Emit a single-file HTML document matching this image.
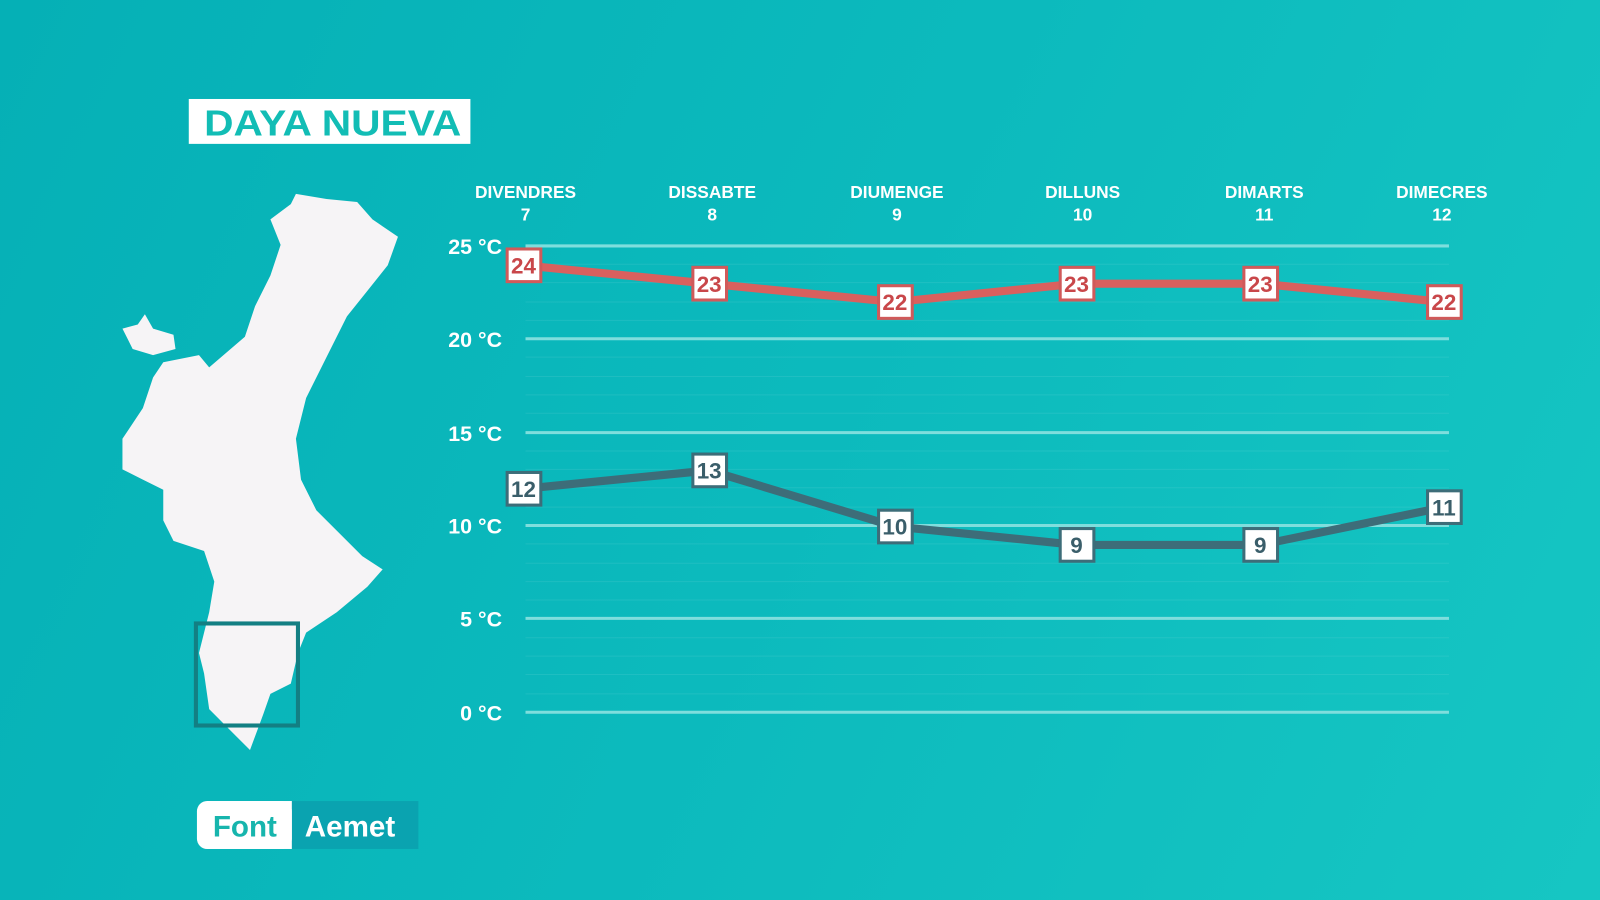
<!DOCTYPE html>
<html><head><meta charset="utf-8"><style>
html,body{margin:0;padding:0;width:1600px;height:900px;overflow:hidden}
body{background:linear-gradient(115deg,#05b0b6 0%,#0cbabd 50%,#16c6c3 100%)}
svg{display:block}
text{font-family:"Liberation Sans",sans-serif;font-weight:bold}
</style></head><body>
<svg width="1600" height="900" viewBox="0 0 1568 882" xmlns="http://www.w3.org/2000/svg">
<rect x="185" y="97" width="276" height="44" fill="#fff"/>
<text x="200" y="133" font-size="35" fill="#12bdb5" textLength="252" lengthAdjust="spacingAndGlyphs">DAYA NUEVA</text>
<path fill="#f6f4f6" d="M290,190 L320,195 L350,198 L365,215 L390,232 L380,260 L360,285 L340,310 L320,350 L300,390 L290,430 L295,470 L310,500 L330,520 L355,545 L375,558 L360,575 L330,600 L300,620 L292,640 L285,670 L265,680 L258,700 L245,735 L230,720 L205,695 L200,660 L195,640 L205,600 L210,570 L200,540 L170,530 L160,510 L160,480 L140,470 L120,460 L120,430 L140,400 L150,370 L160,355 L195,348 L205,360 L240,330 L250,300 L265,270 L275,240 L265,215 L285,200 Z"/>
<path fill="#f6f4f6" d="M120,322 L135,318 L142,308 L150,322 L170,328 L172,342 L150,348 L130,342 Z"/>
<rect x="192" y="611" width="100" height="100" fill="none" stroke="#137f83" stroke-width="4"/>
<rect x="285" y="785" width="125" height="47" fill="#0aa3b0"/>
<rect x="193" y="785" width="93" height="47" rx="10" fill="#fff"/>
<rect x="270" y="785" width="16" height="47" fill="#fff"/>
<text x="240" y="820" text-anchor="middle" font-size="29" fill="#17b5ad">Font</text>
<text x="343" y="820" text-anchor="middle" font-size="29" fill="#fff">Aemet</text>
<g stroke="#ffffff" stroke-opacity="0.08" stroke-width="1">
<line x1="515" x2="1420" y1="259" y2="259"/><line x1="515" x2="1420" y1="277" y2="277"/><line x1="515" x2="1420" y1="296" y2="296"/><line x1="515" x2="1420" y1="314" y2="314"/>
<line x1="515" x2="1420" y1="350" y2="350"/><line x1="515" x2="1420" y1="369" y2="369"/><line x1="515" x2="1420" y1="387" y2="387"/><line x1="515" x2="1420" y1="405" y2="405"/>
<line x1="515" x2="1420" y1="442" y2="442"/><line x1="515" x2="1420" y1="460" y2="460"/><line x1="515" x2="1420" y1="478" y2="478"/><line x1="515" x2="1420" y1="497" y2="497"/>
<line x1="515" x2="1420" y1="533" y2="533"/><line x1="515" x2="1420" y1="552" y2="552"/><line x1="515" x2="1420" y1="570" y2="570"/><line x1="515" x2="1420" y1="588" y2="588"/>
<line x1="515" x2="1420" y1="625" y2="625"/><line x1="515" x2="1420" y1="643" y2="643"/><line x1="515" x2="1420" y1="661" y2="661"/><line x1="515" x2="1420" y1="680" y2="680"/>
</g>
<g stroke="#7fdedd" stroke-width="3">
<line x1="515" x2="1420" y1="241" y2="241"/><line x1="515" x2="1420" y1="332" y2="332"/><line x1="515" x2="1420" y1="424" y2="424"/><line x1="515" x2="1420" y1="515" y2="515"/><line x1="515" x2="1420" y1="606" y2="606"/><line x1="515" x2="1420" y1="698" y2="698"/>
</g>
<g fill="#fff" font-size="21" text-anchor="end">
<text x="492" y="249">25 °C</text><text x="492" y="340">20 °C</text><text x="492" y="432">15 °C</text><text x="492" y="523">10 °C</text><text x="492" y="614">5 °C</text><text x="492" y="706">0 °C</text>
</g>
<g fill="#fff" font-size="17" text-anchor="middle">
<text x="515" y="194">DIVENDRES</text><text x="515" y="216">7</text>
<text x="698" y="194">DISSABTE</text><text x="698" y="216">8</text>
<text x="879" y="194">DIUMENGE</text><text x="879" y="216">9</text>
<text x="1061" y="194">DILLUNS</text><text x="1061" y="216">10</text>
<text x="1239" y="194">DIMARTS</text><text x="1239" y="216">11</text>
<text x="1413" y="194">DIMECRES</text><text x="1413" y="216">12</text>
</g>
<polyline fill="none" stroke="#d9605e" stroke-width="8" points="513,260 695,278 877,296 1055,278 1235,278 1415,296"/>
<polyline fill="none" stroke="#3d6d79" stroke-width="8" points="513,479 695,461 877,516 1055,534 1235,534 1415,497"/>
<g stroke-width="3" fill="#fff">
<g stroke="#d05a5a">
<rect x="497" y="244" width="33" height="32"/><rect x="679" y="262" width="33" height="32"/><rect x="861" y="280" width="33" height="32"/><rect x="1039" y="262" width="33" height="32"/><rect x="1219" y="262" width="33" height="32"/><rect x="1399" y="280" width="33" height="32"/>
</g>
<g stroke="#3d6d79">
<rect x="497" y="463" width="33" height="32"/><rect x="679" y="445" width="33" height="32"/><rect x="861" y="500" width="33" height="32"/><rect x="1039" y="518" width="33" height="32"/><rect x="1219" y="518" width="33" height="32"/><rect x="1399" y="481" width="33" height="32"/>
</g>
</g>
<g font-size="22" text-anchor="middle" fill="#c9474a">
<text x="513" y="268">24</text><text x="695" y="286">23</text><text x="877" y="304">22</text><text x="1055" y="286">23</text><text x="1235" y="286">23</text><text x="1415" y="304">22</text>
</g>
<g font-size="22" text-anchor="middle" fill="#3a5e6a">
<text x="513" y="487">12</text><text x="695" y="469">13</text><text x="877" y="524">10</text><text x="1055" y="542">9</text><text x="1235" y="542">9</text><text x="1415" y="505">11</text>
</g>
</svg>
</body></html>
